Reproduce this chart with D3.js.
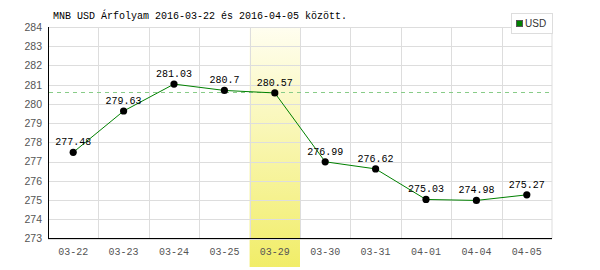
<!DOCTYPE html>
<html><head><meta charset="utf-8">
<script src="https://cdn.jsdelivr.net/npm/d3@7"></script>
<style>body{margin:0;background:#fff}</style>
</head><body>
<svg id="c" width="600" height="270"></svg>
<script>
const categories = ["03-22","03-23","03-24","03-25","03-29","03-30","03-31","04-01","04-04","04-05"];
const values = [277.48, 279.63, 281.03, 280.7, 280.57, 276.99, 276.62, 275.03, 274.98, 275.27];
const labels = ["277.48","279.63","281.03","280.7","280.57","276.99","276.62","275.03","274.98","275.27"];
const yTicks = [273,274,275,276,277,278,279,280,281,282,283,284];
const highlight = "03-29";
const refValue = 280.57;
const title = "MNB USD Árfolyam 2016-03-22 és 2016-04-05 között.";
const seriesName = "USD";

const svg = d3.select("#c");
const L = 48, R = 552, T = 27, B = 238.5;
const x = d3.scaleBand().domain(categories).range([L, R]);
const y = d3.scaleLinear().domain([273, 284]).range([B, T]);
const mono = "'Liberation Mono', 'DejaVu Sans Mono', monospace";
const sans = "'Liberation Sans', Arial, sans-serif";

const defs = svg.append("defs");
const g = defs.append("linearGradient").attr("id","hl").attr("x1",0).attr("x2",0).attr("y1",0).attr("y2",1);
g.append("stop").attr("offset","0%").attr("stop-color","#fffef0");
g.append("stop").attr("offset","100%").attr("stop-color","#f1ed68");

svg.append("rect").attr("x", x(highlight)).attr("y", T).attr("width", x.bandwidth()).attr("height", 267 - T).attr("fill","url(#hl)");

svg.append("g").selectAll("line").data(yTicks).join("line")
  .attr("x1", L).attr("x2", R).attr("y1", d => Math.round(y(d)) + 0.5).attr("y2", d => Math.round(y(d)) + 0.5)
  .attr("stroke", "#dddddd");
svg.append("g").selectAll("line").data(categories.slice(1).concat(["__end"])).join("line")
  .attr("x1", d => d === "__end" ? R : Math.round(x(d)) + 0.5).attr("x2", d => d === "__end" ? R : Math.round(x(d)) + 0.5)
  .attr("y1", T).attr("y2", B).attr("stroke", "#dddddd");

const ya = svg.append("g").attr("transform", `translate(${L},0)`).call(d3.axisLeft(y).tickValues(yTicks).tickSize(0).tickPadding(6).tickFormat(d3.format("d")));
ya.select(".domain").remove();
ya.selectAll("text").attr("font-family", sans).attr("font-size", "10.5px").attr("fill", "#555");
svg.append("line").attr("x1", L + 0.5).attr("x2", L + 0.5).attr("y1", T).attr("y2", B + 0.5).attr("stroke","#000");

const xa = svg.append("g").attr("transform", `translate(0,${B})`).call(d3.axisBottom(x).tickSize(0).tickPadding(9));
xa.select(".domain").remove();
xa.selectAll("text").attr("font-family", mono).attr("font-size", "10px").attr("fill", "#555");
svg.append("line").attr("x1", L).attr("x2", R).attr("y1", B).attr("y2", B).attr("stroke","#000");

svg.append("line").attr("x1", L + 1).attr("x2", R).attr("y1", Math.round(y(refValue)) - 0.5).attr("y2", Math.round(y(refValue)) - 0.5)
  .attr("stroke", "#88cc88").attr("stroke-dasharray", "4,4");

const line = d3.line().x((d,i) => x(categories[i]) + x.bandwidth()/2).y(d => y(d));
svg.append("path").datum(values).attr("d", line).attr("fill","none").attr("stroke","#008000").attr("stroke-width",1);

svg.append("g").selectAll("circle").data(values).join("circle")
  .attr("cx", (d,i) => x(categories[i]) + x.bandwidth()/2).attr("cy", d => y(d)).attr("r", 3.6).attr("fill","#000");

svg.append("g").selectAll("text").data(values).join("text")
  .attr("x", (d,i) => x(categories[i]) + x.bandwidth()/2).attr("y", d => y(d) - 7)
  .attr("text-anchor","middle").attr("font-family", mono).attr("font-size","10px").attr("fill","#000")
  .text((d,i) => labels[i]);

svg.append("text").attr("x", 53).attr("y", 19).attr("font-family", mono).attr("font-size","10px").attr("fill","#000").text(title);

svg.append("rect").attr("x", 511.5).attr("y", 13.5).attr("width", 41).attr("height", 20).attr("fill","#fff").attr("stroke","#dddddd");
svg.append("rect").attr("x", 516.5).attr("y", 20.5).attr("width", 6).attr("height", 6).attr("fill","#008000").attr("stroke","#555");
svg.append("text").attr("x", 525).attr("y", 27).attr("font-family", sans).attr("font-size","10px").attr("fill","#333").text(seriesName);
</script>
</body></html>
